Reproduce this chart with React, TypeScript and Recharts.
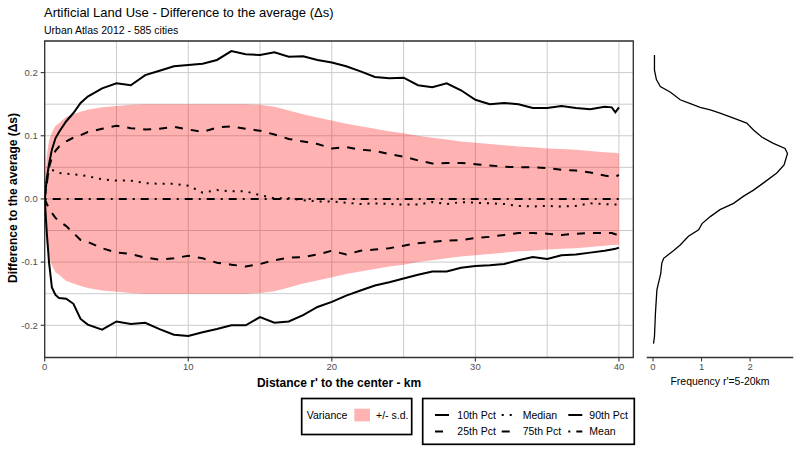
import React from 'react';
import {
  ComposedChart,
  Area,
  Line,
  XAxis,
  YAxis,
  CartesianGrid,
  ReferenceArea,
  ScatterChart,
  Scatter,
} from 'recharts';

// distance r' to the center (km)
const distance = [
  0, 0.15, 0.3, 0.5, 0.75, 1, 1.5, 2, 2.5, 3,
  4, 5, 6, 7, 8, 9, 10, 11, 12, 13, 14, 15, 16, 17, 18, 19, 20, 21,
  22, 23, 24, 25, 26, 27, 28, 29, 30, 31, 32, 33, 34, 35, 36, 37, 38, 39,
  39.5, 39.75, 40,
];

const p10 = [
  0, -0.055, -0.1, -0.14, -0.152, -0.157, -0.158, -0.166, -0.19, -0.199,
  -0.207, -0.194, -0.198, -0.196, -0.206, -0.215, -0.217, -0.211, -0.206, -0.2, -0.2, -0.187, -0.196, -0.194, -0.184, -0.171, -0.163, -0.153,
  -0.145, -0.137, -0.132, -0.126, -0.12, -0.115, -0.115, -0.109, -0.106, -0.105, -0.103, -0.097, -0.092, -0.095, -0.089, -0.088, -0.085, -0.082,
  -0.08, -0.079, -0.077,
];

const p25 = [
  0, -0.008, -0.015, -0.022, -0.03, -0.035, -0.043, -0.054, -0.065, -0.068,
  -0.078, -0.085, -0.087, -0.093, -0.096, -0.094, -0.09, -0.094, -0.101, -0.104, -0.107, -0.103, -0.097, -0.093, -0.092, -0.088, -0.082, -0.088,
  -0.082, -0.08, -0.078, -0.074, -0.07, -0.068, -0.066, -0.065, -0.062, -0.06, -0.057, -0.054, -0.054, -0.055, -0.057, -0.055, -0.054, -0.054,
  -0.054, -0.056, -0.057,
];

const median = [
  0, 0.03, 0.045, 0.046, 0.044, 0.041, 0.04, 0.039, 0.038, 0.036,
  0.031, 0.029, 0.029, 0.025, 0.024, 0.024, 0.021, 0.01, 0.014, 0.012, 0.012, 0.006, 0.001, 0.001, -0.002, -0.004, -0.004, -0.006,
  -0.008, -0.007, -0.008, -0.009, -0.009, -0.005, -0.008, -0.005, -0.006, -0.007, -0.008, -0.011, -0.012, -0.011, -0.012, -0.011, -0.007, -0.008,
  -0.009, -0.009, -0.009,
];

const p75 = [
  0, 0.025, 0.05, 0.065, 0.076, 0.083, 0.091, 0.097, 0.101, 0.106,
  0.111, 0.116, 0.112, 0.11, 0.111, 0.114, 0.11, 0.106, 0.113, 0.115, 0.111, 0.108, 0.102, 0.095, 0.091, 0.087, 0.08, 0.082,
  0.078, 0.076, 0.071, 0.067, 0.061, 0.056, 0.057, 0.057, 0.055, 0.053, 0.051, 0.05, 0.05, 0.049, 0.046, 0.045, 0.042, 0.037,
  0.035, 0.035, 0.038,
];

const p90 = [
  0, 0.033, 0.055, 0.078, 0.096, 0.106, 0.123, 0.136, 0.152, 0.162,
  0.175, 0.183, 0.18, 0.196, 0.203, 0.21, 0.212, 0.214, 0.22, 0.234, 0.229, 0.228, 0.232, 0.225, 0.226, 0.22, 0.216, 0.21,
  0.202, 0.193, 0.191, 0.192, 0.18, 0.177, 0.183, 0.172, 0.157, 0.15, 0.152, 0.15, 0.144, 0.144, 0.147, 0.144, 0.142, 0.146,
  0.145, 0.137, 0.145,
];

const mean = [
  0, 0, 0, 0, 0, 0, 0, 0, 0, 0,
  0, 0, 0, 0, 0, 0, 0, 0, 0, 0, 0, 0, 0, 0, 0, 0, 0, 0,
  0, 0, 0, 0, 0, 0, 0, 0, 0, 0, 0, 0, 0, 0, 0, 0, 0, 0,
  0, 0, 0,
];

const sd = [
  0.02, 0.07, 0.092, 0.105, 0.116, 0.12, 0.13, 0.134, 0.138, 0.141,
  0.145, 0.147, 0.149, 0.15, 0.15, 0.15, 0.15, 0.15, 0.15, 0.15, 0.15, 0.149, 0.146, 0.14, 0.134, 0.129, 0.124, 0.119,
  0.115, 0.111, 0.107, 0.104, 0.1, 0.097, 0.094, 0.091, 0.089, 0.087, 0.085, 0.083, 0.082, 0.08, 0.079, 0.078, 0.076, 0.074,
  0.073, 0.073, 0.072,
];

// density of the difference for r' = 5-20 km (side panel)
const densityValue = [
  0.228, 0.204, 0.189, 0.178, 0.169, 0.157, 0.151, 0.145, 0.141, 0.136, 0.128, 0.12, 0.109,
  0.098, 0.088, 0.08, 0.072, 0.054, 0.041, 0.025, 0.014, 0.004, -0.007, -0.017, -0.028,
  -0.039, -0.049, -0.059, -0.073, -0.082, -0.094, -0.102, -0.118, -0.144, -0.181, -0.218, -0.229,
];
const densityFreq = [
  0.03, 0.03, 0.07, 0.15, 0.36, 0.56, 0.77, 0.97, 1.18, 1.38, 1.66, 1.93, 2.07,
  2.24, 2.48, 2.72, 2.77, 2.7, 2.55, 2.27, 2.07, 1.86, 1.66, 1.38, 1.18,
  1.01, 0.94, 0.73, 0.56, 0.42, 0.22, 0.18, 0.16, 0.08, 0.05, 0.03, 0.01,
];

const xTicks = [0, 5, 10, 15, 20, 25, 30, 35, 40];
const yTicks = [-0.2, -0.15, -0.1, -0.05, 0, 0.05, 0.1, 0.15, 0.2];
const freqTicks = [0, 1, 2];

const legendRow1 = [
  { label: '10th Pct', dash: undefined },
  { label: 'Median', dash: '2 6' },
  { label: '90th Pct', dash: undefined },
];
const legendRow2 = [
  { label: '25th Pct', dash: '8 8' },
  { label: '75th Pct', dash: '8 8' },
  { label: 'Mean', dash: '2 6 8 6' },
];

const FONT = '"Liberation Sans", Arial, sans-serif';
const Y_DOMAIN: [number, number] = [-0.251, 0.25];

const rows = distance.map((r, i) => ({
  r,
  p10: p10[i],
  p25: p25[i],
  median: median[i],
  p75: p75[i],
  p90: p90[i],
  mean: mean[i],
  band: [mean[i] - sd[i], mean[i] + sd[i]],
}));

const density = densityValue.map((v, i) => ({ val: v, freq: densityFreq[i] }));

const XTick = (props: any) => {
  const { x, y, payload } = props;
  const v = payload.value;
  if (v % 10 !== 0) return <g />;
  return (
    <g>
      <line x1={x} x2={x} y1={y - 6} y2={y - 2} stroke="#333" strokeWidth={1.1} />
      <text x={x} y={y} dy="0.71em" textAnchor="middle" fontSize={9.5} fill="#4d4d4d" fontFamily={FONT}>
        {v}
      </text>
    </g>
  );
};

const YTick = (props: any) => {
  const { x, y, payload } = props;
  const v = payload.value;
  if (Math.abs(Math.round(v * 10) - v * 10) > 1e-6) return <g />;
  return (
    <g>
      <line x1={x + 3} x2={x + 7} y1={y} y2={y} stroke="#333" strokeWidth={1.1} />
      <text x={x} y={y} dy="0.355em" textAnchor="end" fontSize={9.5} fill="#4d4d4d" fontFamily={FONT}>
        {v.toFixed(1)}
      </text>
    </g>
  );
};

const keyXs = [435, 501.7, 568.3];
const textXs = [457.3, 522.7, 589.3];

function Overlay() {
  const txt = { fontFamily: FONT, fill: '#000' };
  return (
    <svg width={800} height={450} style={{ position: 'absolute', left: 0, top: 0, pointerEvents: 'none' }}>
      <text x={44} y={17.3} fontSize={13} {...txt}>
        Artificial Land Use - Difference to the average (Δs)
      </text>
      <text x={44} y={34} fontSize={10.5} {...txt}>
        Urban Atlas 2012 - 585 cities
      </text>
      <text
        x={0}
        y={0}
        transform="translate(16.8,198) rotate(-90)"
        textAnchor="middle"
        fontSize={12}
        fontWeight="bold"
        {...txt}
      >
        Difference to the average (Δs)
      </text>
      <text x={339} y={387} textAnchor="middle" fontSize={12} fontWeight="bold" {...txt}>
        Distance r' to the center - km
      </text>
      <text x={720} y={385} textAnchor="middle" fontSize={10.5} {...txt}>
        Frequency r'=5-20km
      </text>

      {/* variance legend */}
      <rect x={301.7} y={398.5} width={110} height={36} fill="#fff" stroke="#000" strokeWidth={1.7} />
      <text x={306.7} y={418.7} fontSize={10.5} {...txt}>Variance</text>
      <rect x={354.3} y={408.7} width={15.7} height={12.7} fill="#ff0000" fillOpacity={0.3} />
      <text x={376} y={418.7} fontSize={10.5} {...txt}>+/- s.d.</text>

      {/* line legend */}
      <rect x={422.7} y={398.5} width={211.6} height={45.8} fill="#fff" stroke="#000" strokeWidth={1.7} />
      {[legendRow1, legendRow2].map((row, ri) =>
        row.map((item, ci) => (
          <g key={item.label}>
            <line
              x1={keyXs[ci]}
              x2={keyXs[ci] + 14}
              y1={ri === 0 ? 415 : 431.5}
              y2={ri === 0 ? 415 : 431.5}
              stroke="#000"
              strokeWidth={2}
              strokeDasharray={item.dash}
            />
            <text x={textXs[ci]} y={ri === 0 ? 418.7 : 435.3} fontSize={10.5} {...txt}>
              {item.label}
            </text>
          </g>
        ))
      )}
    </svg>
  );
}

export default function App() {
  return (
    <div style={{ position: 'absolute', left: 0, top: 0, width: 800, height: 450, background: '#fff' }}>
      <div style={{ position: 'absolute', left: 0, top: 0 }}>
        <ComposedChart
          width={645}
          height={388}
          data={rows}
          margin={{ top: 41, right: 11.7, bottom: 0.5, left: 4.7 }}
        >
          <CartesianGrid stroke="#cccccc" strokeWidth={1} />
          <XAxis
            type="number"
            dataKey="r"
            domain={[0, 41]}
            ticks={xTicks}
            interval={0}
            allowDataOverflow
            axisLine={false}
            tickLine={false}
            tickSize={4}
            tickMargin={2}
            height={30}
            tick={<XTick />}
          />
          <YAxis
            type="number"
            domain={Y_DOMAIN}
            ticks={yTicks}
            interval={0}
            allowDataOverflow
            axisLine={false}
            tickLine={false}
            tickSize={4}
            tickMargin={3}
            width={40}
            tick={<YTick />}
          />
          <Area
            dataKey="band"
            type="linear"
            stroke="none"
            fill="#ff0000"
            fillOpacity={0.3}
            isAnimationActive={false}
            activeDot={false}
          />
          <Line dataKey="p10" type="linear" stroke="#000" strokeWidth={2} dot={false} activeDot={false} isAnimationActive={false} />
          <Line dataKey="p25" type="linear" stroke="#000" strokeWidth={2} strokeDasharray="8 8" dot={false} activeDot={false} isAnimationActive={false} />
          <Line dataKey="median" type="linear" stroke="#000" strokeWidth={2} strokeDasharray="2 6" dot={false} activeDot={false} isAnimationActive={false} />
          <Line dataKey="p75" type="linear" stroke="#000" strokeWidth={2} strokeDasharray="8 8" dot={false} activeDot={false} isAnimationActive={false} />
          <Line dataKey="p90" type="linear" stroke="#000" strokeWidth={2} dot={false} activeDot={false} isAnimationActive={false} />
          <Line dataKey="mean" type="linear" stroke="#000" strokeWidth={2} strokeDasharray="2 6 8 6" dot={false} activeDot={false} isAnimationActive={false} />
          <ReferenceArea x1={0} x2={41} y1={Y_DOMAIN[0]} y2={Y_DOMAIN[1]} fill="none" stroke="#333333" strokeWidth={1.3} />
        </ComposedChart>
      </div>

      <div style={{ position: 'absolute', left: 600, top: 0 }}>
        <ScatterChart width={200} height={388} margin={{ top: 41, right: 6.7, bottom: 0.5, left: 46.7 }}>
          <XAxis
            type="number"
            dataKey="freq"
            domain={[-0.13, 2.89]}
            ticks={freqTicks}
            interval={0}
            allowDataOverflow
            stroke="#333"
            axisLine={{ stroke: '#333', strokeWidth: 1.3 }}
            tickLine={{ stroke: '#333' }}
            tickSize={4}
            tickMargin={2}
            height={30}
            tick={{ fontSize: 9.5, fill: '#4d4d4d', fontFamily: FONT }}
          />
          <YAxis type="number" dataKey="val" domain={Y_DOMAIN} allowDataOverflow hide />
          <Scatter
            data={density}
            line={{ stroke: '#000', strokeWidth: 1.3 }}
            lineType="joint"
            shape={() => <g />}
            isAnimationActive={false}
          />
        </ScatterChart>
      </div>

      <Overlay />
    </div>
  );
}
